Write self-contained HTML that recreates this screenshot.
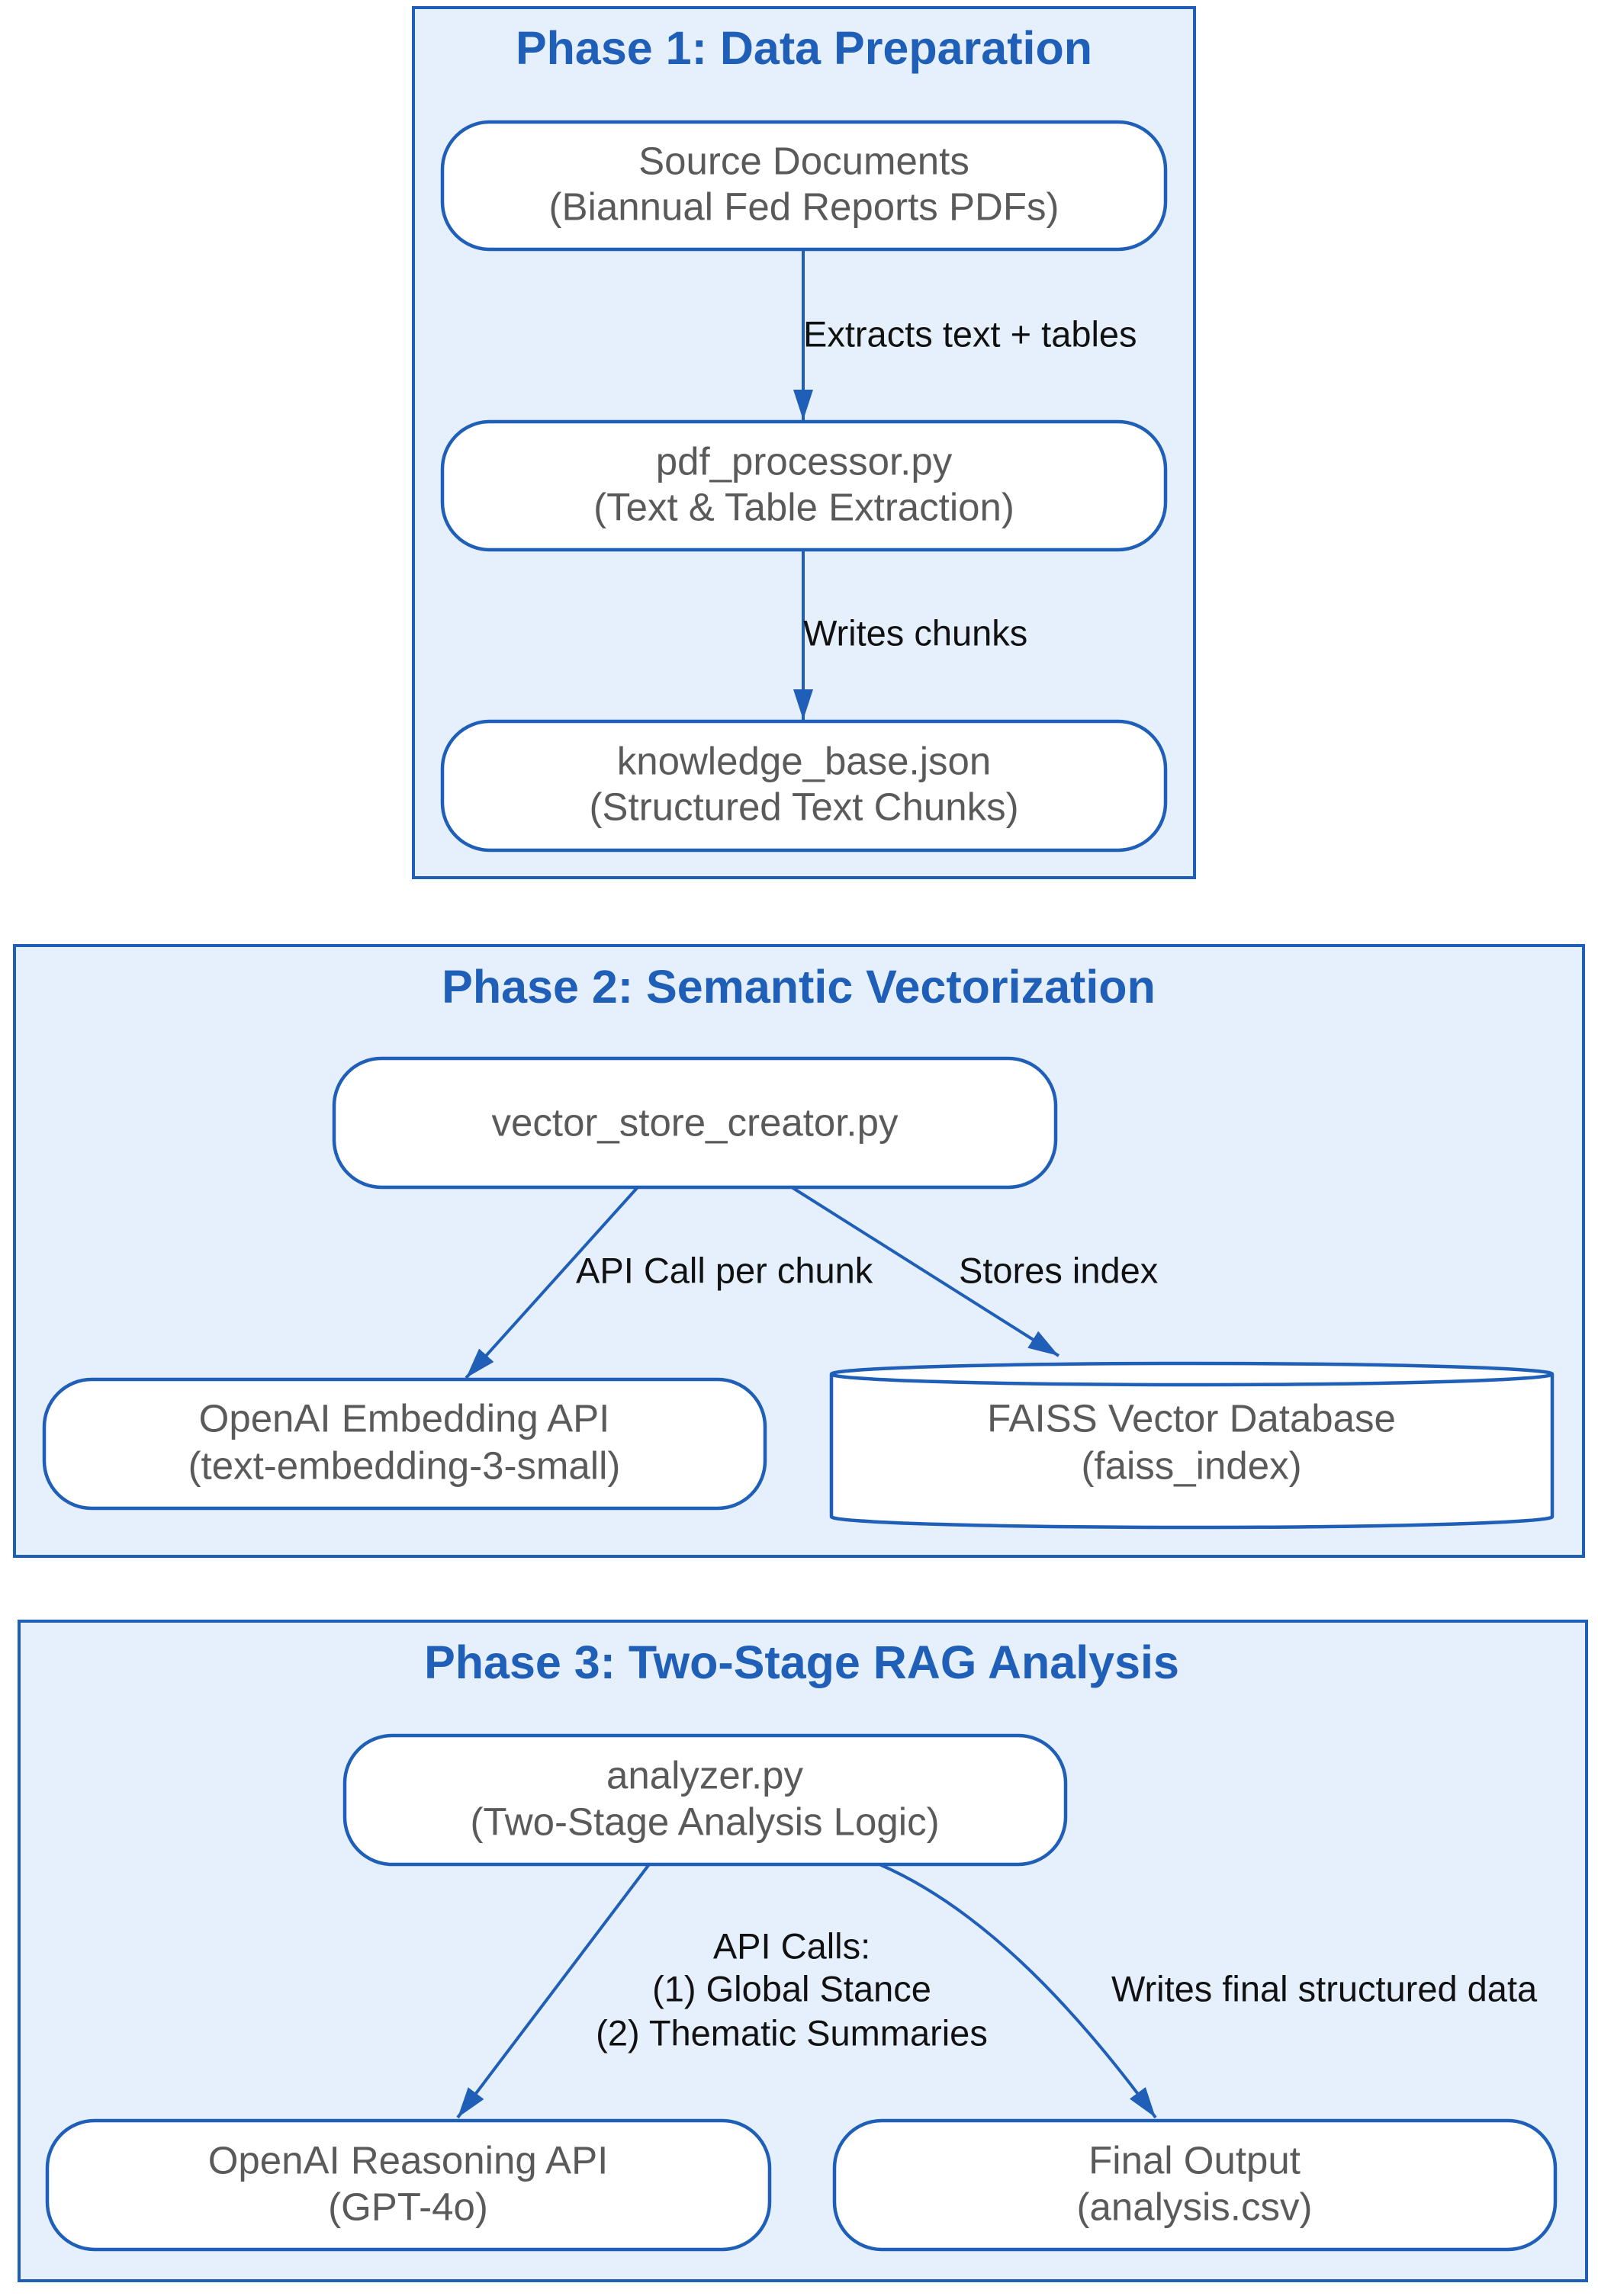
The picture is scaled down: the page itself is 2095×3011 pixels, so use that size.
<!DOCTYPE html>
<html><head><meta charset="utf-8"><style>
html,body{margin:0;padding:0;background:#fff;}
svg{display:block;}
.t{font-family:"Liberation Sans",Arial,sans-serif;font-weight:bold;font-size:61px;fill:#1f5fb8;}
.n{font-family:"Liberation Sans",Arial,sans-serif;font-size:51px;fill:#5a5a5a;}
.l{font-family:"Liberation Sans",Arial,sans-serif;font-size:47px;fill:#111;}
</style></head><body>
<svg width="2095" height="3011" viewBox="0 0 2095 3011" xmlns="http://www.w3.org/2000/svg">
<defs>
<marker id="b" viewBox="0 0 40 26" refX="40" refY="13" markerWidth="40" markerHeight="26" markerUnits="userSpaceOnUse" orient="auto">
<path d="M0,0 L40,13 L0,26 z" fill="#1f5fb8"/>
</marker>
</defs>
<g fill="#e6f0fd" stroke="#1f5fb8" stroke-width="4">
<rect x="542" y="10" width="1024" height="1141"/>
<rect x="19" y="1240" width="2057" height="801"/>
<rect x="25" y="2126" width="2055" height="865"/>
</g>
<g class="t" text-anchor="middle" dominant-baseline="central">
<text x="1054" y="63">Phase 1: Data Preparation</text>
<text x="1047" y="1294">Phase 2: Semantic Vectorization</text>
<text x="1051" y="2180">Phase 3: Two-Stage RAG Analysis</text>
</g>
<g fill="#fff" stroke="#1f5fb8" stroke-width="4.5">
<rect x="580" y="160" width="948" height="167" rx="62"/>
<rect x="580" y="553" width="948" height="168" rx="62"/>
<rect x="580" y="946" width="948" height="169" rx="62"/>
<rect x="438" y="1388" width="946" height="169" rx="62"/>
<rect x="58" y="1809" width="945" height="169" rx="62"/>
<path d="M1090,1802 L1090,1989 A472.5,14 0 0 0 2035,1989 L2035,1802 A472.5,14 0 0 0 1090,1802 A472.5,14 0 0 0 2035,1802"/>
<rect x="452" y="2276" width="945" height="169" rx="62"/>
<rect x="62" y="2781" width="947" height="169" rx="62"/>
<rect x="1094" y="2781" width="945" height="169" rx="62"/>
</g>
<g class="n" text-anchor="middle" dominant-baseline="central">
<text x="1054" y="211">Source Documents</text>
<text x="1054" y="271">(Biannual Fed Reports PDFs)</text>
<text x="1054" y="605">pdf_processor.py</text>
<text x="1054" y="665">(Text &amp; Table Extraction)</text>
<text x="1054" y="998">knowledge_base.json</text>
<text x="1054" y="1058">(Structured Text Chunks)</text>
<text x="911" y="1472">vector_store_creator.py</text>
<text x="530" y="1860">OpenAI Embedding API</text>
<text x="530" y="1922">(text-embedding-3-small)</text>
<text x="1562" y="1860">FAISS Vector Database</text>
<text x="1562" y="1922">(faiss_index)</text>
<text x="924" y="2328">analyzer.py</text>
<text x="924" y="2389">(Two-Stage Analysis Logic)</text>
<text x="535" y="2833">OpenAI Reasoning API</text>
<text x="535" y="2894">(GPT-4o)</text>
<text x="1566" y="2833">Final Output</text>
<text x="1566" y="2894">(analysis.csv)</text>
</g>
<g stroke="#1f5fb8" stroke-width="4" fill="none" marker-end="url(#b)">
<path d="M1053,327 L1053,551"/>
<path d="M1053,721 L1053,944"/>
<path d="M836,1557 L611,1807"/>
<path d="M1038,1557 L1388,1778"/>
<path d="M851,2445 L600,2777"/>
<path d="M1153,2445 C1280,2500 1400,2620 1515,2777"/>
</g>
<g class="l" dominant-baseline="central">
<text x="1053" y="438">Extracts text + tables</text>
<text x="1053" y="830">Writes chunks</text>
<text x="755" y="1666">API Call per chunk</text>
<text x="1257" y="1666">Stores index</text>
<text x="1038" y="2552" text-anchor="middle">API Calls:</text>
<text x="1038" y="2608" text-anchor="middle">(1) Global Stance</text>
<text x="1038" y="2666" text-anchor="middle">(2) Thematic Summaries</text>
<text x="1457" y="2608">Writes final structured data</text>
</g>
</svg>
</body></html>
